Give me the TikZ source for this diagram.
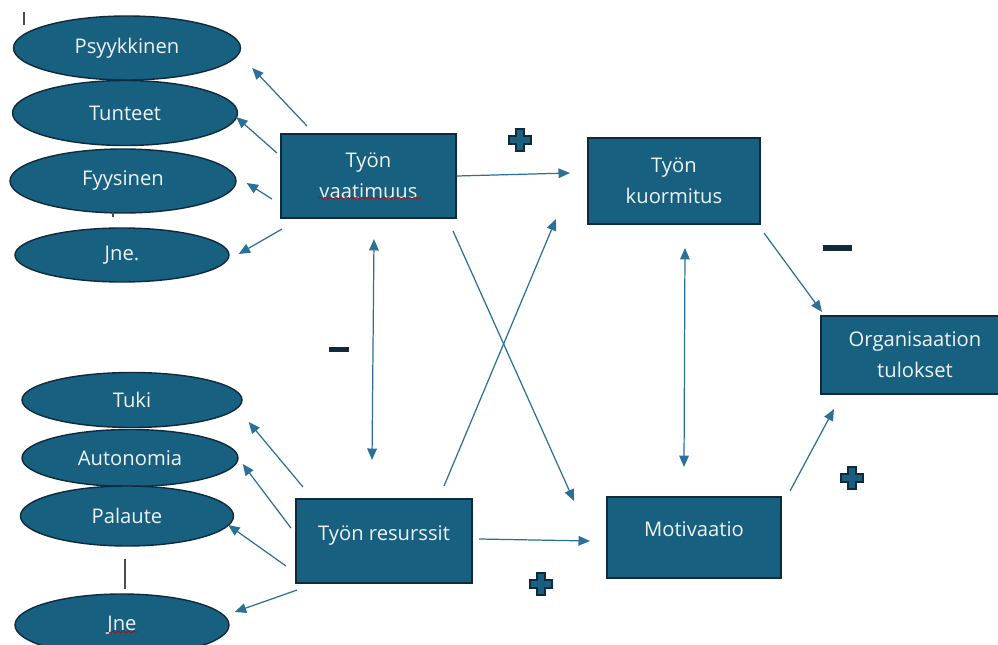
\documentclass[tikz,border=0pt]{standalone}
\usepackage{fontspec}
\setmainfont{Open Sans}
\usetikzlibrary{shapes.geometric,arrows.meta,decorations.pathmorphing}
\definecolor{boxfill}{HTML}{17607F}
\definecolor{boxline}{HTML}{0E2A3C}
\definecolor{arrowcol}{HTML}{2A7098}
\definecolor{signfill}{HTML}{1A5F80}
\definecolor{signline}{HTML}{0E2A3C}
\definecolor{textcol}{HTML}{F0F3F5}

\begin{document}
\begin{tikzpicture}[x=0.02cm,y=-0.02cm]
    \newcommand{\px}{0.02cm} % one pixel of the sketch
    \newcommand{\tip}{Triangle[length=6.5pt,width=5.5pt]}

    % set the styles of the shapes and the links
    \tikzset{
        field/.style 2 args={
            ellipse, draw=boxline, line width=0.8pt, fill=boxfill,
            text=textcol, inner sep=0pt,
            minimum width=#1*\px, minimum height=#2*\px,
            font=\fontsize{11.5}{14}\selectfont
            },
        block/.style 2 args={
            rectangle, draw=boxline, line width=1.2pt, fill=boxfill,
            text=textcol, inner sep=0pt, align=center,
            minimum width=#1*\px, minimum height=#2*\px,
            font=\fontsize{11.5}{17.5}\selectfont
            },
        link/.style={draw=arrowcol, line width=0.7pt, -{\tip}},
        twoway/.style={link, {\tip}-{\tip}},
        spell/.style={draw=red!80!black, line width=0.4pt,
            decorate, decoration={snake, segment length=3pt, amplitude=0.5pt}},
        pics/plussign/.style={code={
            \filldraw[fill=signfill, draw=signline, line width=1pt]
                (-4,-11) -- (4,-11) -- (4,-4) -- (11,-4) -- (11,4) -- (4,4)
                -- (4,11) -- (-4,11) -- (-4,4) -- (-11,4) -- (-11,-4) -- (-4,-4) -- cycle;
            }}
    }

    \clip (0,0) rectangle (998,645);

    % demands side
    \node[field={227}{64}] (psy) at (127,48) {Psyykkinen};
    \node[field={225}{65}] (tun) at (125,113) {Tunteet};
    \node[field={226}{64}] (fyy) at (123,181) {Fyysinen};
    \node[field={214}{54}] (jneA) at (122,255) {Jne.};

    % resources side
    \node[field={220}{55}] (tuki) at (132,400) {Tuki};
    \node[field={216}{57}] (auto) at (130,458) {Autonomia};
    \node[field={213}{60}] (pal) at (127,516) {Palaute};
    \node[field={214}{62}] (jneB) at (122,625) {Jne};

    % main blocks
    \node[block={175}{84}] (dem) at (368.5,176) {Työn\\vaatimuus};
    \node[block={172}{86}] (kuor) at (674,181) {Työn\\kuormitus};
    \node[block={188}{78}] (org) at (915,355) {Organisaation\\tulokset};
    \node[block={176}{84}, text height=8.5pt, text depth=9.5pt] (res) at (384,541) {Työn resurssit};
    \node[block={174}{81}, text height=8.5pt, text depth=9.5pt] (mot) at (694,537.5) {Motivaatio};

    % arrows to the ellipses
    \draw[link] ([shift={(27,-7)}]dem.north west) -- ([shift={(11,20)}]psy.east);
    \draw[link] ([shift={(-3,-23)}]dem.west) -- ([shift={(-2,4)}]tun.east);
    \draw[link] ([shift={(-8,23)}]dem.west) -- ([shift={(10,2)}]fyy.east);
    \draw[link] ([shift={(2,10)}]dem.south west) -- ([shift={(9,-1)}]jneA.east);
    \draw[link] ([shift={(8,-11)}]res.north west) -- ([shift={(6,22)}]tuki.east);
    \draw[link] ([shift={(-4,-13)}]res.west) -- ([shift={(4,6)}]auto.east);
    \draw[link] ([shift={(-9,25)}]res.west) -- ([shift={(-6,9)}]pal.east);
    \draw[link] ([shift={(2,6)}]res.south west) -- ([shift={(5,-13)}]jneB.east);

    % arrows between the blocks
    \draw[link] (dem.east) -- ([shift={(-17,-8)}]kuor.west);
    \draw[link] ([shift={(-4,12)}]dem.south east) -- ([shift={(-32,5)}]mot.north west);
    \draw[link] ([shift={(-29,-12)}]res.north east) -- ([shift={(-31,-6)}]kuor.south west);
    \draw[link] ([shift={(6,-2)}]res.east) -- ([shift={(-16,3.5)}]mot.west);
    \draw[twoway] ([shift={(5.5,20)}]dem.south) -- ([shift={(-12,-38)}]res.north);
    \draw[twoway] ([shift={(11,23)}]kuor.south) -- ([shift={(-10,-29)}]mot.north);
    \draw[link] ([shift={(3,8)}]kuor.south east) -- ([shift={(2,-3)}]org.north west);
    \draw[link] ([shift={(8,-5)}]mot.north east) -- ([shift={(14,14)}]org.south west);

    % signs
    \pic at (520,140) {plussign};
    \pic at (541,584) {plussign};
    \pic at (852,478) {plussign};
    \fill[signline] (329,347.5) rectangle (349,352.5);
    \fill[signline] (823,245) rectangle (852,251);

    % loose marks
    \draw[gray!60!black, line width=0.8pt] ([shift={(-2,12)}]pal.south) -- ([shift={(3,-4)}]jneB.north);
    \draw[gray!60!black, line width=0.6pt] (24,12) -- (24,25);
    \draw[gray!60!black, line width=0.6pt] (113,211) -- (113,217);
    \draw[spell] (318,198) -- (421,198);
    \draw[spell] (106,632) -- (138,632);
\end{tikzpicture}
\end{document}
